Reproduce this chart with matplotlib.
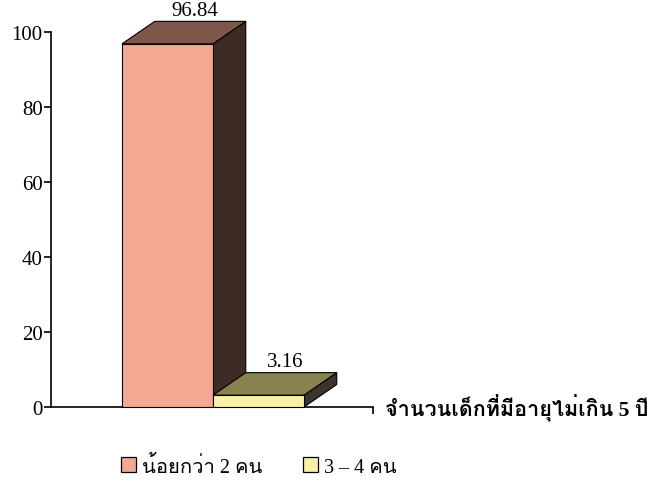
import numpy as np
import matplotlib
matplotlib.use('Agg')
import matplotlib.pyplot as plt
from matplotlib import font_manager
from matplotlib.ft2font import FT2Font
from matplotlib.patches import Polygon, Patch

# data
groups = ['น้อยกว่า 2 คน', '3 – 4 คน']
values = [96.84, 3.16]
value_labels = ['96.84', '3.16']
xlabel = 'จำนวนเด็กที่มีอายุไม่เกิน 5 ปี'
yticks = [0, 20, 40, 60, 80, 100]

front_cols = ['#F4A891', '#F9F1A4']
top_cols = ['#7D5749', '#8A8150']
side_cols = ['#3D2B25', '#3B352C']

# find something that can draw Thai
thai_fams = []
for f in font_manager.fontManager.ttflist:
    try:
        if 0x0E08 in FT2Font(f.fname).get_charmap():
            if f.name not in thai_fams:
                thai_fams.append(f.name)
    except Exception:
        pass
fams = ['Liberation Serif'] + thai_fams + ['DejaVu Sans']
plt.rcParams['font.family'] = fams

fig = plt.figure(figsize=(6.56, 4.89), dpi=100)
W, H = 656, 489
x0, x1 = -0.78, 2.76
ax = fig.add_axes([51 / W, (489 - 408) / H, (x1 - x0) * 91 / W, 375 / H])
ax.set_xlim(x0, x1)
ax.set_ylim(0, 100)

dx, dy = 0.36, 6.0
w = 1.0
for i, v in enumerate(values):
    x = i
    front = Polygon([(x, 0), (x + w, 0), (x + w, v), (x, v)], closed=True,
                    fc=front_cols[i], ec='black', lw=0.8, clip_on=False, zorder=3)
    top = Polygon([(x, v), (x + dx, v + dy), (x + w + dx, v + dy), (x + w, v)], closed=True,
                  fc=top_cols[i], ec='black', lw=0.8, clip_on=False, zorder=3)
    side = Polygon([(x + w, 0), (x + w + dx, dy), (x + w + dx, v + dy), (x + w, v)], closed=True,
                   fc=side_cols[i], ec='black', lw=0.8, clip_on=False, zorder=3)
    for p in (side, top, front):
        ax.add_patch(p)
    ax.annotate(value_labels[i], (x + w / 2 + dx, v + dy), xytext=(-4, 1),
                textcoords='offset points', ha='center', va='bottom', fontsize=15,
                annotation_clip=False)

for s in ['top', 'right']:
    ax.spines[s].set_visible(False)
ax.spines['left'].set_linewidth(1.2)
ax.spines['bottom'].set_linewidth(1.2)
ax.set_yticks(yticks)
ax.tick_params(axis='y', direction='out', length=5, width=1.2, labelsize=15, pad=1)
ax.set_xticks([x1])
ax.set_xticklabels([''])
ax.tick_params(axis='x', direction='out', length=5, width=1.2)
ax.patch.set_visible(False)

ax.text(1.0 + 12 / ((x1 - x0) * 91), 0, xlabel, transform=ax.transAxes,
        ha='left', va='center', fontsize=15.5, fontweight='bold')

handles = [Patch(fc=front_cols[i], ec='black', lw=0.9) for i in range(2)]
fig.legend(handles, groups, loc='center left', bbox_to_anchor=(121 / W, 1 - 467 / H),
           ncol=2, frameon=False, fontsize=14.5, handlelength=0.75, handleheight=0.75,
           handletextpad=0.3, columnspacing=2.0, borderpad=0, borderaxespad=0)

fig.savefig('out.png', dpi=100)
